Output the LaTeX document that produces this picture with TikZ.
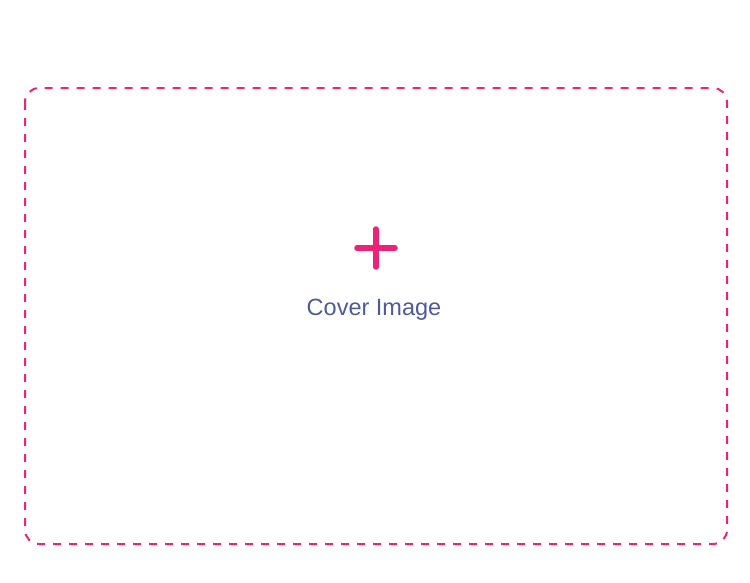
\documentclass[tikz,border=0pt]{standalone}
\usepackage{fontspec}
\setmainfont{Liberation Sans}
\definecolor{pinkc}{HTML}{EC2379}
\definecolor{textc}{HTML}{4F5A9A}
\begin{document}
\begin{tikzpicture}[x=1pt,y=-1pt,
  frame/.style={draw=pinkc,line width=2pt,dash pattern=on 8pt off 8pt,rounded corners=14pt},
  plusarm/.style={draw=pinkc,line width=5.5pt,line cap=round},
  label/.style={text=textc,font=\fontsize{23.5}{27}\selectfont,inner sep=0pt}]
\useasboundingbox (0,0) rectangle (750,582);
\draw[frame] (25,88) rectangle (727,544);
\coordinate (pl) at (357,248);
\coordinate (pr) at (395,248);
\coordinate (pt) at (376,229);
\coordinate (pb) at (376,267);
\draw[plusarm] (pl) -- (pr);
\draw[plusarm] (pt) -- (pb);
\node[label] (cap) at (374,310) {Cover Image};
\end{tikzpicture}
\end{document}
